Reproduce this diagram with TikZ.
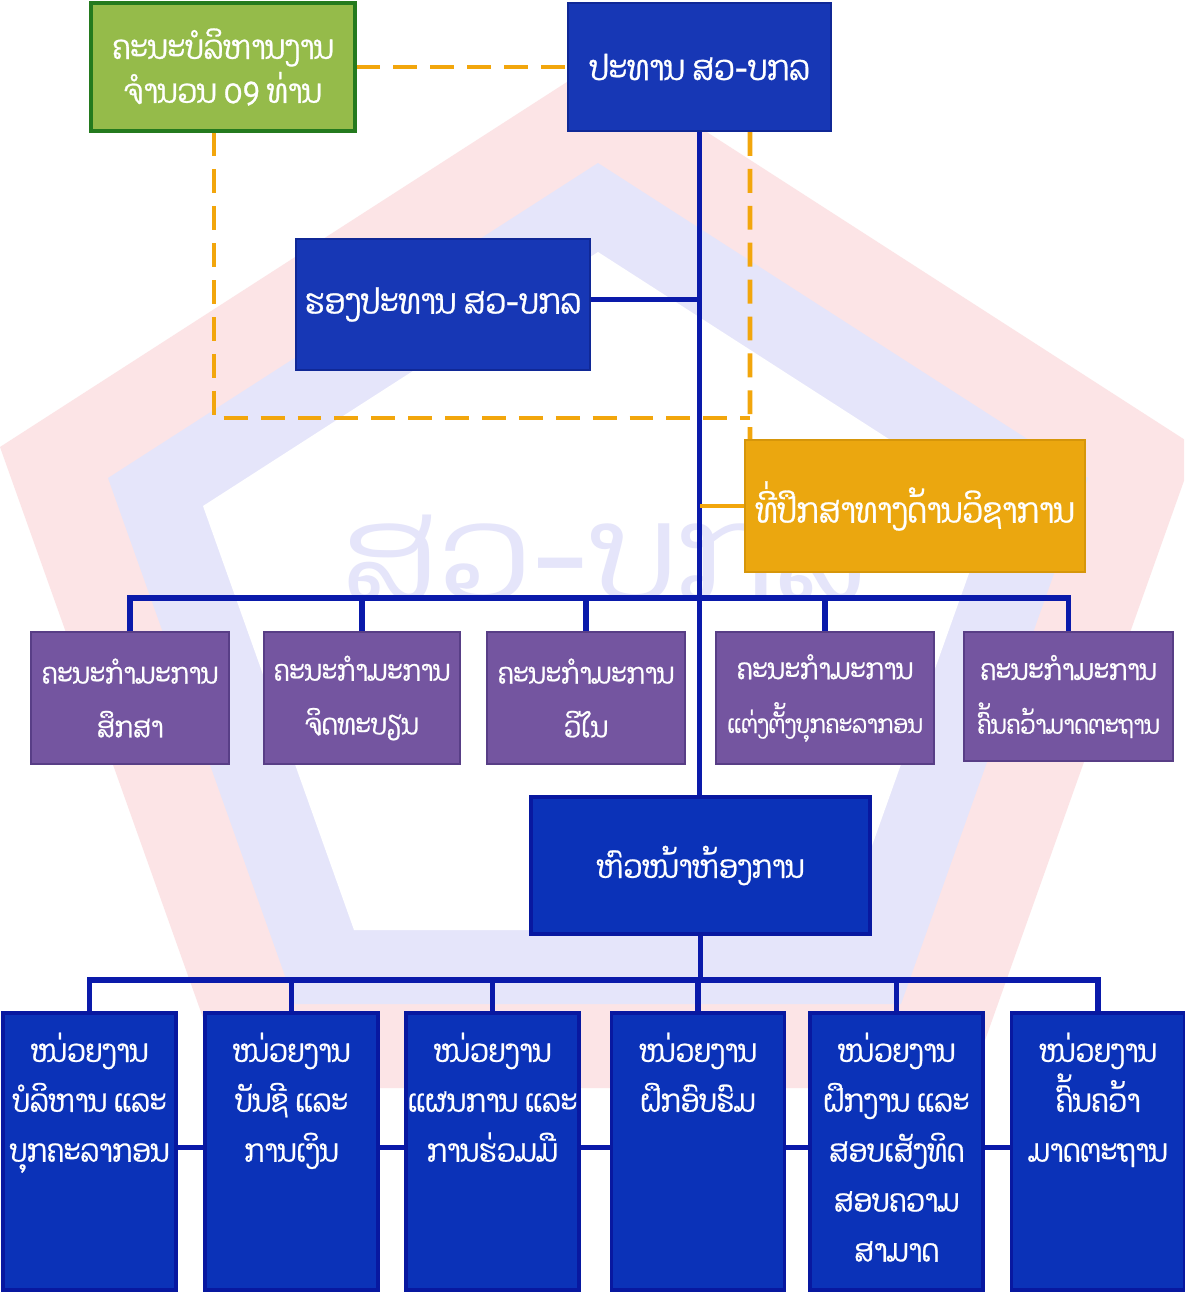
\documentclass[tikz,border=0pt]{standalone}
\usepackage{fontspec}
\newfontfamily\laofont[Script=Lao,FakeStretch=0.85,FakeBold=0.8]{Dhyana}
\newfontfamily\laowide[Script=Lao]{Dhyana}
\usetikzlibrary{positioning,calc}
\definecolor{boardgreen}{RGB}{149,187,74}
\definecolor{boardedge}{RGB}{36,122,30}
\definecolor{chiefblue}{RGB}{23,55,181}
\definecolor{chiefedge}{RGB}{16,40,150}
\definecolor{unitblue}{RGB}{11,50,184}
\definecolor{unitedge}{RGB}{8,24,160}
\definecolor{commpurple}{RGB}{116,85,160}
\definecolor{commedge}{RGB}{88,62,134}
\definecolor{advorange}{RGB}{235,167,15}
\definecolor{advedge}{RGB}{214,150,10}
\definecolor{linkblue}{RGB}{10,26,170}
\definecolor{linkorange}{RGB}{242,166,12}
\definecolor{wmpink}{RGB}{252,228,230}
\definecolor{wmlilac}{RGB}{229,229,250}

\begin{document}
\begin{tikzpicture}[
    x=0.02cm, y=-0.02cm,
    basebox/.style={draw,line width=1.2pt,text=white,align=center,inner sep=0pt,font=\laofont\fontsize{20}{25}\selectfont},
    chiefbox/.style={basebox,fill=chiefblue,draw=chiefedge},
    commbox/.style={basebox,fill=commpurple,draw=commedge,minimum height=2.64cm,font=\laofont\fontsize{16.5}{30.6}\selectfont},
    unitbox/.style={basebox,fill=unitblue,draw=unitedge,line width=2pt,minimum width=3.46cm,minimum height=5.54cm},
    unittext/.style={text=white,align=center,anchor=north,inner sep=0pt,font=\laofont\fontsize{18}{28.4}\selectfont},
    bluelink/.style={draw=linkblue,line width=3pt},
    orangelink/.style={draw=linkorange,line width=2.8pt},
    dashlink/.style={orangelink,dash pattern=on 13.6pt off 7.4pt},
]

\useasboundingbox (0,0) rectangle (1184,1292);
\fill[white] (0,0) rectangle (1184,1292);

% Watermark
\begin{scope}
\clip (0,0) rectangle (1184,1292);
\fill[wmpink] (598,62) -- (1196,447) -- (968,1088) -- (228,1088) -- (0,447) -- cycle;
\fill[wmlilac] (598,163) -- (1088,478) -- (901,1004) -- (295,1004) -- (108,478) -- cycle;
\fill[white] (598,252) -- (993,506) -- (842,930) -- (354,930) -- (203,506) -- cycle;
\node[text=wmlilac,font=\laowide\fontsize{76}{80}\selectfont,inner sep=0pt] (wmark) at (604,558) {ສວ-ບກລ};
\end{scope}

% Top level
\node[basebox,fill=boardgreen,draw=boardedge,line width=1.8pt,minimum width=5.28cm,minimum height=2.56cm,font=\laofont\fontsize{19}{25}\selectfont] (board) at (223,67) {ຄະນະບໍລິຫານງານ\\ຈຳນວນ 09 ທ່ານ};
\node[chiefbox,minimum width=5.26cm,minimum height=2.56cm] (pres) at (699.5,67) {ປະທານ ສວ-ບກລ};
\node[chiefbox,minimum width=5.88cm,minimum height=2.62cm] (vice) at (443,304.5) {ຮອງປະທານ ສວ-ບກລ};
\node[basebox,fill=advorange,draw=advedge,minimum width=6.8cm,minimum height=2.64cm] (adv) at (915,506) {ທີ່ປຶກສາທາງດ້ານວິຊາການ};

% Committees
\node[commbox,minimum width=3.96cm] (c1) at (130,698) {ຄະນະກຳມະການ\\ສຶກສາ};
\node[commbox,minimum width=3.92cm] (c2) at (362,698) {ຄະນະກຳມະການ\\ຈິດທະບຽນ};
\node[commbox,minimum width=3.96cm] (c3) at (586,698) {ຄະນະກຳມະການ\\ວິໄນ};
\node[commbox,minimum width=4.36cm] (c4) at (825,698) {ຄະນະກຳມະການ\\{\fontsize{14.3}{30.6}\selectfont ແຕ່ງຕັ້ງບຸກຄະລາກອນ}};
\node[commbox,minimum width=4.18cm,minimum height=2.58cm] (c5) at (1068.5,696.5) {ຄະນະກຳມະການ\\{\fontsize{14.7}{30.6}\selectfont ຄົ້ນຄວ້າມາດຕະຖານ}};

% Office head
\node[basebox,fill=unitblue,draw=unitedge,line width=2pt,minimum width=6.78cm,minimum height=2.74cm,font=\laofont\fontsize{18.2}{25}\selectfont] (office) at (700.5,865.5) {ຫົວໜ້າຫ້ອງການ};

% Units
\coordinate (ubus) at (700,980);
\foreach \n/\x in {u1/89.5,u2/291.5,u3/492.5,u4/698,u5/896.5,u6/1098}
    \node[unitbox] (\n) at (\x,1151.5) {};
\foreach \a/\b in {u1/u2,u2/u3,u3/u4,u4/u5,u5/u6}
    \draw[bluelink] ([yshift=0.08cm]\a.east) -- ([yshift=0.08cm]\b.west);
\node[unittext] (u1t) at ([yshift=-0.42cm]u1.north) {ໜ່ວຍງານ\\ບໍລິຫານ ແລະ\\ບຸກຄະລາກອນ};
\node[unittext] (u2t) at ([yshift=-0.42cm]u2.north) {ໜ່ວຍງານ\\ບັນຊີ ແລະ\\ການເງິນ};
\node[unittext] (u3t) at ([yshift=-0.42cm]u3.north) {ໜ່ວຍງານ\\ແຜນການ ແລະ\\ການຮ່ວມມື};
\node[unittext] (u4t) at ([yshift=-0.42cm]u4.north) {ໜ່ວຍງານ\\ຝຶກອົບຮົມ};
\node[unittext] (u5t) at ([yshift=-0.42cm]u5.north) {ໜ່ວຍງານ\\ຝຶກງານ ແລະ\\ສອບເສັງທິດ\\ສອບຄວາມ\\ສາມາດ};
\node[unittext] (u6t) at ([yshift=-0.42cm]u6.north) {ໜ່ວຍງານ\\ຄົ້ນຄວ້າ\\ມາດຕະຖານ};

% Connections
\coordinate (dj) at (750,418);
\coordinate (cbus) at (699.5,598);
\draw[dashlink] (board.east) -- (pres.west);
\draw[dashlink] ([xshift=-0.18cm]board.south) |- (dj);
\draw[dashlink] ([xshift=1.01cm]pres.south) -- (dj) -- (dj |- adv.north);
\draw[bluelink] (pres.south) -- (pres.south |- office.north);
\draw[bluelink] ([yshift=0.1cm]vice.east) -- ([yshift=0.1cm]vice.east -| pres.south);
\draw[orangelink] (adv.west) -- (adv.west -| pres.south);
\draw[bluelink] (c1.north) |- (cbus) -| (c5.north);
\foreach \n in {c2,c3,c4}
    \draw[bluelink] (\n.north) -- (\n.north |- cbus);
\draw[bluelink] (office.south) -- (office.south |- ubus);
\draw[bluelink] (u1.north) |- (ubus) -| (u6.north);
\foreach \n in {u2,u3,u4,u5}
    \draw[bluelink] (\n.north) -- (\n.north |- ubus);

\end{tikzpicture}
\end{document}
